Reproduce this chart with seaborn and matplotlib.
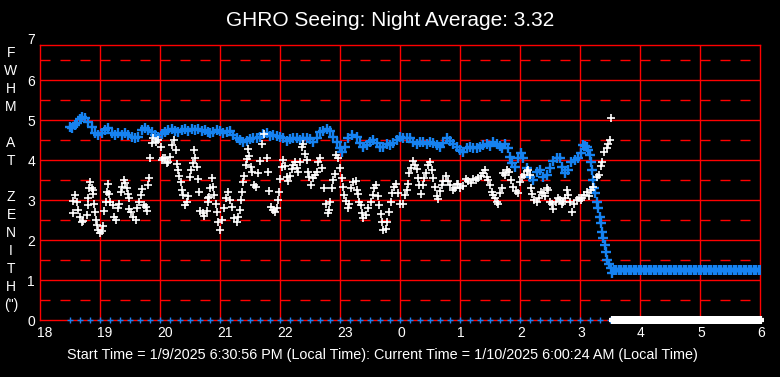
import numpy as np
import pandas as pd
import matplotlib
matplotlib.use("Agg")
import matplotlib.pyplot as plt
import matplotlib.transforms as mtransforms
import seaborn as sns

# ---------------- data (minutes after 18:00 local time) ----------------
white_min = [33, 33, 35, 37, 38, 40, 42, 43, 47, 48, 48, 49, 50, 52, 53, 53, 54, 55, 56, 57,
             58, 60, 62, 63, 64, 66, 67, 68, 69, 70, 73, 74, 76, 78, 79, 81, 82, 84, 85, 87,
             88, 89, 89, 91, 93, 96, 97, 99, 101, 102, 104, 106, 107, 108, 109, 110, 112, 113, 116, 118,
             121, 122, 123, 125, 127, 128, 130, 132, 134, 136, 137, 138, 139, 141, 142, 143, 145, 147, 148, 150,
             151, 153, 154, 155, 157, 158, 159, 160, 163, 164, 167, 168, 168, 169, 170, 172, 173, 174, 176, 177,
             178, 180, 182, 184, 186, 188, 190, 192, 194, 197, 198, 200, 201, 202, 203, 204, 206, 207, 208, 209,
             211, 212, 214, 216, 218, 220, 222, 224, 227, 228, 229, 231, 233, 235, 237, 238, 239, 240, 242, 243,
             245, 247, 248, 250, 252, 253, 255, 257, 258, 260, 262, 263, 265, 267, 268, 269, 271, 273, 275, 277,
             278, 280, 282, 284, 286, 288, 289, 290, 292, 293, 295, 296, 298, 300, 302, 303, 304, 306, 308, 309,
             311, 313, 316, 317, 318, 319, 321, 322, 323, 326, 328, 331, 333, 334, 336, 338, 339, 341, 342, 343,
             346, 347, 349, 351, 352, 354, 356, 358, 360, 363, 365, 367, 368, 369, 371, 373, 375, 377, 378, 379,
             381, 383, 384, 386, 388, 390, 392, 393, 395, 397, 398, 400, 402, 403, 406, 408, 410, 413, 415, 417,
             418, 420, 423, 426, 428, 431, 433, 436, 438, 441, 443, 445, 447, 448, 450, 452, 453, 455, 457, 458,
             460, 462, 463, 465, 467, 469, 471, 473, 476, 478, 480, 482, 484, 487, 488, 490, 491, 492, 494, 497,
             499, 501, 503, 505, 507, 508, 510, 512, 513, 516, 518, 520, 522, 523, 525, 527, 528, 530, 532, 534,
             537, 539, 541, 542, 544, 547, 549, 551, 553, 557, 559, 561, 562, 564, 567, 568, 570, 571]
white_fwhm = [2.98, 2.67, 3.13, 2.96, 2.75, 2.58, 2.46, 2.48, 2.63, 3.06, 2.88, 3.29, 3.44, 3.31, 3.25, 3.14, 2.89, 2.71, 2.50, 2.38,
              2.25, 2.17, 2.23, 2.36, 2.73, 2.96, 3.19, 3.39, 3.14, 2.96, 2.88, 2.58, 2.50, 2.79, 2.89, 3.21, 3.33, 3.50, 3.42, 3.29,
              3.14, 3.04, 2.77, 2.69, 2.58, 2.50, 2.79, 2.96, 3.13, 3.28, 2.88, 2.83, 2.73, 3.38, 3.54, 4.04, 4.42, 4.54, 4.46, 4.50,
              4.33, 4.00, 4.04, 4.06, 3.92, 3.96, 4.08, 4.38, 4.50, 4.25, 3.90, 3.75, 3.60, 3.46, 3.25, 3.13, 2.88, 2.96, 3.10, 3.58,
              3.75, 3.92, 4.25, 4.04, 3.83, 3.52, 3.19, 2.73, 2.67, 2.61, 2.73, 3.06, 2.94, 3.08, 3.29, 3.54, 3.33, 3.13, 2.90, 2.71,
              2.46, 2.25, 2.50, 2.79, 3.04, 3.19, 3.00, 2.83, 2.56, 2.46, 2.58, 2.75, 3.00, 3.19, 3.44, 3.60, 3.88, 4.03, 4.28, 4.11,
              3.83, 3.71, 3.38, 3.33, 3.67, 3.98, 4.39, 4.64, 4.04, 3.69, 3.23, 2.83, 2.75, 2.71, 2.79, 3.00, 3.19, 3.52, 3.83, 4.00,
              3.86, 3.58, 3.48, 3.60, 3.78, 3.88, 3.94, 3.79, 3.71, 3.96, 4.33, 4.39, 4.14, 4.00, 3.71, 3.58, 3.38, 3.54, 3.63, 3.71,
              3.94, 4.04, 3.79, 3.29, 2.90, 2.67, 2.75, 2.94, 3.29, 3.50, 3.64, 4.13, 4.06, 3.79, 3.56, 3.33, 3.13, 2.98, 2.79, 2.89,
              3.29, 3.44, 3.48, 3.25, 3.14, 2.96, 2.88, 2.67, 2.54, 2.63, 2.79, 2.96, 3.13, 3.29, 3.38, 3.11, 2.88, 2.64, 2.46, 2.25,
              2.27, 2.46, 2.71, 2.94, 3.17, 3.33, 3.39, 3.17, 2.89, 2.89, 3.13, 3.25, 3.39, 3.67, 3.81, 3.98, 3.88, 3.78, 3.56, 3.38,
              3.14, 3.38, 3.54, 3.67, 3.88, 3.94, 3.75, 3.56, 3.33, 3.11, 3.03, 3.23, 3.38, 3.48, 3.61, 3.48, 3.38, 3.25, 3.29, 3.39,
              3.39, 3.31, 3.36, 3.53, 3.48, 3.42, 3.53, 3.50, 3.56, 3.61, 3.67, 3.75, 3.58, 3.50, 3.38, 3.21, 3.13, 3.04, 2.96, 2.89,
              3.17, 3.29, 3.67, 3.63, 3.75, 3.71, 3.50, 3.33, 3.23, 3.17, 3.46, 3.58, 3.63, 3.73, 3.75, 3.63, 3.29, 3.14, 3.00, 2.94,
              3.06, 3.19, 3.17, 3.11, 3.29, 3.25, 2.96, 2.89, 2.77, 2.94, 3.06, 3.00, 2.89, 2.96, 3.04, 3.25, 3.13, 2.94, 2.71, 2.89,
              3.00, 3.04, 3.00, 3.06, 3.13, 3.19, 3.11, 3.25, 3.33, 3.58, 3.63, 3.86, 3.96, 4.21, 4.29, 4.39, 4.50, 5.06]

blue_min = [30, 32, 35, 37, 40, 42, 45, 48, 52, 55, 58, 62, 65, 68, 72, 75, 78, 82, 85, 88,
            92, 95, 98, 102, 105, 108, 112, 115, 118, 122, 125, 128, 132, 135, 138, 142, 145, 148, 152, 155,
            158, 162, 165, 168, 170, 173, 177, 180, 183, 187, 190, 193, 197, 200, 203, 207, 210, 213, 217, 220,
            223, 227, 230, 233, 237, 240, 243, 247, 250, 253, 257, 260, 263, 267, 270, 273, 277, 280, 283, 287,
            290, 293, 297, 300, 302, 305, 308, 312, 317, 320, 323, 327, 330, 333, 337, 340, 343, 347, 350, 353,
            357, 360, 363, 367, 370, 373, 377, 380, 383, 387, 390, 393, 397, 400, 403, 407, 410, 413, 417, 420,
            423, 427, 430, 433, 437, 440, 443, 447, 450, 453, 457, 460, 462, 465, 468, 470, 472, 475, 478, 481,
            483, 487, 490, 493, 497, 500, 503, 507, 510, 513, 517, 520, 522, 525, 528, 531, 535, 538, 541, 543,
            545, 547, 548, 550, 551, 552, 553, 554, 555, 557, 558, 560, 561, 562, 563, 565, 566, 567, 569, 571,
            572]
blue_fwhm = [4.83, 4.79, 4.88, 4.92, 5.02, 5.08, 5.04, 4.96, 4.83, 4.67, 4.63, 4.67, 4.75, 4.79, 4.67, 4.63, 4.67, 4.63, 4.67, 4.63,
             4.58, 4.54, 4.58, 4.75, 4.81, 4.75, 4.71, 4.63, 4.58, 4.64, 4.71, 4.75, 4.78, 4.73, 4.71, 4.75, 4.78, 4.73, 4.78, 4.75,
             4.78, 4.73, 4.75, 4.71, 4.67, 4.71, 4.75, 4.73, 4.67, 4.71, 4.73, 4.63, 4.54, 4.50, 4.44, 4.48, 4.52, 4.54, 4.54, 4.58,
             4.64, 4.67, 4.61, 4.63, 4.61, 4.58, 4.54, 4.48, 4.52, 4.56, 4.54, 4.50, 4.54, 4.56, 4.52, 4.44, 4.54, 4.69, 4.73, 4.78,
             4.73, 4.58, 4.46, 4.29, 4.21, 4.33, 4.54, 4.63, 4.58, 4.42, 4.33, 4.38, 4.44, 4.50, 4.42, 4.33, 4.33, 4.39, 4.38, 4.42,
             4.50, 4.58, 4.54, 4.54, 4.56, 4.46, 4.39, 4.44, 4.46, 4.39, 4.46, 4.42, 4.38, 4.33, 4.42, 4.54, 4.48, 4.39, 4.33, 4.25,
             4.21, 4.31, 4.33, 4.29, 4.31, 4.33, 4.38, 4.39, 4.35, 4.44, 4.39, 4.35, 4.31, 4.39, 4.29, 4.08, 3.92, 3.83, 4.04, 4.17,
             4.04, 3.79, 3.58, 3.50, 3.71, 3.75, 3.58, 3.63, 3.79, 3.98, 4.04, 4.04, 3.83, 3.67, 3.75, 3.96, 4.00, 4.04, 4.17, 4.38,
             4.35, 4.33, 4.25, 4.13, 3.96, 3.75, 3.50, 3.29, 3.17, 2.96, 2.79, 2.58, 2.42, 2.20, 2.04, 1.88, 1.71, 1.50, 1.39, 1.29,
             1.17]

# after the measurements stop, the average is held constant
blue_hold_min = [575, 580, 585, 590, 595, 600, 605, 610, 615, 620, 625, 630, 635, 640, 645, 650, 655, 660, 665,
                 670, 675, 680, 685, 690, 695, 700, 705, 710, 715, 720]
blue_hold_fwhm = [1.25] * len(blue_hold_min)

blue_zero_min = [30, 40, 50, 60, 70, 80, 90, 100, 110, 120, 130, 140, 150, 160, 170, 180, 190, 200, 210, 220,
                 230, 240, 250, 260, 270, 280, 290, 300, 310, 320, 330, 340, 350, 360, 370, 380, 390, 400, 410, 420,
                 430, 440, 450, 460, 470, 480, 490, 500, 510, 520, 530, 540, 550, 560, 570, 580, 590, 600, 610, 620,
                 630, 640, 650, 660, 670, 680, 690, 700, 710, 720]
white_zero_min = [573, 576, 579, 582, 585, 588, 591, 594, 597, 600, 603, 606, 609, 612, 615, 618, 621, 624, 627, 630,
                  633, 636, 639, 642, 645, 648, 651, 654, 657, 660, 663, 666, 669, 672, 675, 678, 681, 684, 687, 690,
                  693, 696, 699, 702, 705, 708, 711, 714, 717, 720]

x_ticks = [18, 19, 20, 21, 22, 23, 24, 25, 26, 27, 28, 29, 30]
x_tick_labels = ["18", "19", "20", "21", "22", "23", "0", "1", "2", "3", "4", "5", "6"]
y_ticks = [0, 1, 2, 3, 4, 5, 6]
title = "GHRO Seeing: Night Average: 3.32"
footer = ("Start Time = 1/9/2025 6:30:56 PM (Local Time): "
          "Current Time = 1/10/2025 6:00:24 AM (Local Time)")
ylabel_lines = ["F", "W", "H", "M", "", "A", "T", "", "Z", "E", "N", "I", "T", "H", "(\")"]

# ---------------- frames ----------------
def hours(mins):
    return [18 + m / 60.0 for m in mins]

df_white = pd.DataFrame({"t": hours(white_min), "fwhm": white_fwhm})
df_blue = pd.DataFrame({"t": hours(blue_min), "fwhm": blue_fwhm})
df_hold = pd.DataFrame({"t": hours(blue_hold_min), "fwhm": blue_hold_fwhm})
df_bz = pd.DataFrame({"t": hours(blue_zero_min), "fwhm": [0.0] * len(blue_zero_min)})
df_wz = pd.DataFrame({"t": hours(white_zero_min), "fwhm": [0.0] * len(white_zero_min)})

# ---------------- style ----------------
sns.set_style("dark")
plt.rcParams["font.family"] = ["Liberation Sans", "DejaVu Sans"]
plt.rcParams["lines.scale_dashes"] = False

W, H = 780, 377
fig = plt.figure(figsize=(W / 100, H / 100), dpi=100, facecolor="black")
ax = fig.add_axes([40 / W, 57 / H, 720 / W, 275 / H])
ax.set_facecolor("black")

RED = "#ff0000"
BLUE = "#1682f0"

# grid
for xv in x_ticks[1:-1]:
    ax.axvline(xv, color=RED, lw=1.0, zorder=1)
for yv in [1, 2, 3, 4, 5, 6]:
    ax.axhline(yv, color=RED, lw=1.0, zorder=1)
for yv in [0.5, 1.5, 2.5, 3.5, 4.5, 5.5, 6.5]:
    ax.axhline(yv, color=RED, lw=1.0, linestyle=(0, (7.2, 7.2)), zorder=1)

# data
sns.scatterplot(data=df_blue, x="t", y="fwhm", marker="+", color=BLUE, s=42,
                linewidth=1.7, ax=ax, zorder=3, legend=False)
sns.scatterplot(data=df_hold, x="t", y="fwhm", marker="+", color=BLUE, s=42,
                linewidth=3.2, ax=ax, zorder=3, legend=False)
sns.scatterplot(data=df_white, x="t", y="fwhm", marker="+", color="white", s=30,
                linewidth=1.2, ax=ax, zorder=4, legend=False)
sns.scatterplot(data=df_bz, x="t", y="fwhm", marker="+", color=BLUE, s=18,
                linewidth=1.0, ax=ax, zorder=4, legend=False, clip_on=False)
sns.scatterplot(data=df_wz, x="t", y="fwhm", marker="+", color="white", s=30,
                linewidth=3.0, ax=ax, zorder=5, legend=False, clip_on=False)

ax.set_xlim(18, 30)
ax.set_ylim(0, 6.875)
ax.set_xticks(x_ticks)
ax.set_xticklabels(x_tick_labels)
ax.set_yticks(y_ticks)
ax.set_xlabel("")
ax.set_ylabel("")
ax.tick_params(axis="both", length=0, colors="white", labelsize=10)
ax.tick_params(axis="x", pad=4.5)
ax.tick_params(axis="y", pad=3.6)
offset = mtransforms.ScaledTranslation(-0.03, 0, fig.dpi_scale_trans)
for lab in ax.get_xticklabels():
    lab.set_horizontalalignment("left")
    lab.set_transform(lab.get_transform() + offset)
for sp in ax.spines.values():
    sp.set_visible(True)
    sp.set_color(RED)
    sp.set_linewidth(1.0)
ax.grid(False)

# the "7" label above the frame
ax.text(-0.0065, 7, "7", transform=ax.get_yaxis_transform(), ha="right", va="center",
        color="white", fontsize=10, clip_on=False)

# titles / labels
fig.text(0.5, 1 - 20 / H, title, ha="center", va="center", color="white", fontsize=15)
for i, ch in enumerate(ylabel_lines):
    if ch:
        fig.text(11 / W, 1 - (53 + 18 * i) / H, ch, ha="center", va="center",
                 color="white", fontsize=10)
fig.text(382 / W, 1 - 355 / H, footer, ha="center", va="center", color="white",
         fontsize=10.4)

fig.savefig("out.png", dpi=100, facecolor="black")
